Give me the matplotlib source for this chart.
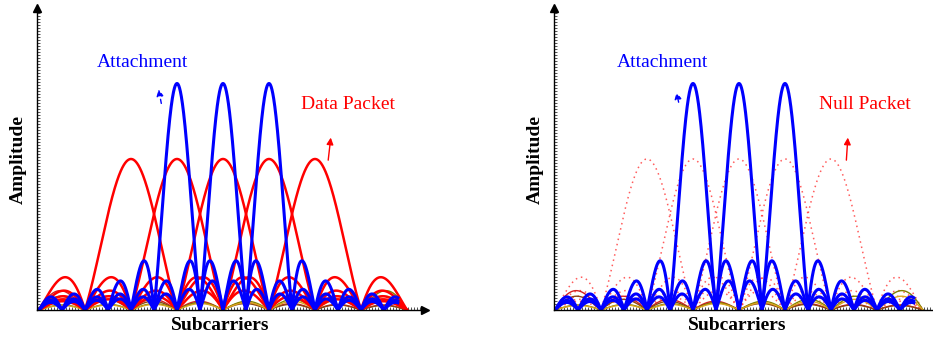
import numpy as np
import matplotlib
matplotlib.use("Agg")
import matplotlib.pyplot as plt
from matplotlib.ticker import MultipleLocator, NullLocator

# ---- data ----
data_centers = [2, 3, 4, 5, 6]          # data / null packet subcarriers
data_amp = 1.0
data_width = 1.0
attach_centers = [3, 4, 5]              # attachment subcarriers
attach_amp = 1.5
attach_width = 0.5
other_centers = [-2, -3, 10, 11]        # neighbouring subcarriers (leakage)
other_colors = ["#d42020", "#8B4513", "#808000", "#DAA520"]
other_amp = 1.0
x_max_data = 8.0
x_max_attach = 7.8

def sinc_env(x, c, w, a):
    u = (x - c) / w
    return a * np.abs(np.sinc(u))

serif = "Liberation Serif"
fig = plt.figure(figsize=(9.33, 3.37), dpi=100)
W, H = 933, 337
px_unit = 46.0

def make_axes(left_px, right_px, x0_px):
    ax = fig.add_axes([left_px / W, (337 - 310) / H, (right_px - left_px) / W, 302 / H])
    ax.set_xlim(-(x0_px - left_px) / px_unit, (right_px - x0_px) / px_unit)
    ax.set_ylim(0, 2.0)
    for s in ["top", "right"]:
        ax.spines[s].set_visible(False)
    ax.spines["left"].set_linewidth(1.0)
    ax.spines["bottom"].set_linewidth(1.0)
    ax.xaxis.set_major_locator(NullLocator())
    ax.yaxis.set_major_locator(NullLocator())
    ax.xaxis.set_minor_locator(MultipleLocator(3 / px_unit))
    ax.yaxis.set_minor_locator(MultipleLocator(3 / 151.0))
    ax.tick_params(which="minor", direction="in", length=2, width=0.6, color="#333333")
    ax.plot(1, 0, ">k", ms=6, transform=ax.transAxes, clip_on=False)
    ax.plot(0, 1, "^k", ms=6, transform=ax.transAxes, clip_on=False)
    return ax

xd = np.linspace(0, x_max_data, 3000)
xa = np.linspace(0, x_max_attach, 3000)

# ---- left panel ----
axL = make_axes(37, 425, 39)
for c, col in zip(other_centers, other_colors):
    axL.plot(xd, sinc_env(xd, c, data_width, other_amp), color=col, lw=1.0)
for c in data_centers:
    axL.plot(xd, sinc_env(xd, c, data_width, data_amp), color="#ff0000", lw=1.8)
for c in attach_centers:
    axL.plot(xa, sinc_env(xa, c, attach_width, attach_amp), color="#0000ff", lw=2.2)

axL.text(2.26, 1.636, "Attachment", color="#0000ff", family=serif, fontsize=14,
         ha="center", va="center")
axL.text(6.72, 1.364, "Data Packet", color="#ff0000", family=serif, fontsize=14,
         ha="center", va="center")
axL.annotate("", xy=(2.59, 1.48), xytext=(2.67, 1.35),
             arrowprops=dict(arrowstyle="-|>", color="#0000ff", lw=1.0, ls=(0, (3, 4)),
                             mutation_scale=10))
axL.annotate("", xy=(6.35, 1.16), xytext=(6.28, 0.974),
             arrowprops=dict(arrowstyle="-|>", color="#ff0000", lw=1.0, mutation_scale=10))

# ---- right panel ----
axR = make_axes(554, 945, 555)
for c in data_centers:
    axR.plot(xd, sinc_env(xd, c, data_width, data_amp), color="#ff3333", lw=1.1,
             ls=(0, (1, 2.5)), alpha=0.8)
for c, col in zip(other_centers, other_colors):
    axR.plot(xd, sinc_env(xd, c, data_width, other_amp), color=col, lw=1.0)
for c in attach_centers:
    axR.plot(xa, sinc_env(xa, c, attach_width, attach_amp), color="#0000ff", lw=2.2)

axR.text(2.33, 1.636, "Attachment", color="#0000ff", family=serif, fontsize=14,
         ha="center", va="center")
axR.text(6.74, 1.364, "Null Packet", color="#ff0000", family=serif, fontsize=14,
         ha="center", va="center")
axR.annotate("", xy=(2.63, 1.46), xytext=(2.70, 1.358),
             arrowprops=dict(arrowstyle="-|>", color="#0000ff", lw=1.0, ls=(0, (3, 4)),
                             mutation_scale=10))
axR.annotate("", xy=(6.37, 1.16), xytext=(6.33, 0.974),
             arrowprops=dict(arrowstyle="-|>", color="#ff0000", lw=1.0, mutation_scale=10))

# ---- axis titles ----
for xp_amp, xp_sub in [(18, 220), (535, 737)]:
    fig.text(xp_amp / W, 1 - 160 / H, "Amplitude", family=serif, fontweight="bold",
             fontsize=14, rotation=90, ha="center", va="center")
    fig.text(xp_sub / W, 1 - 325 / H, "Subcarriers", family=serif, fontweight="bold",
             fontsize=14, ha="center", va="center")

fig.savefig("out.png", dpi=100)
